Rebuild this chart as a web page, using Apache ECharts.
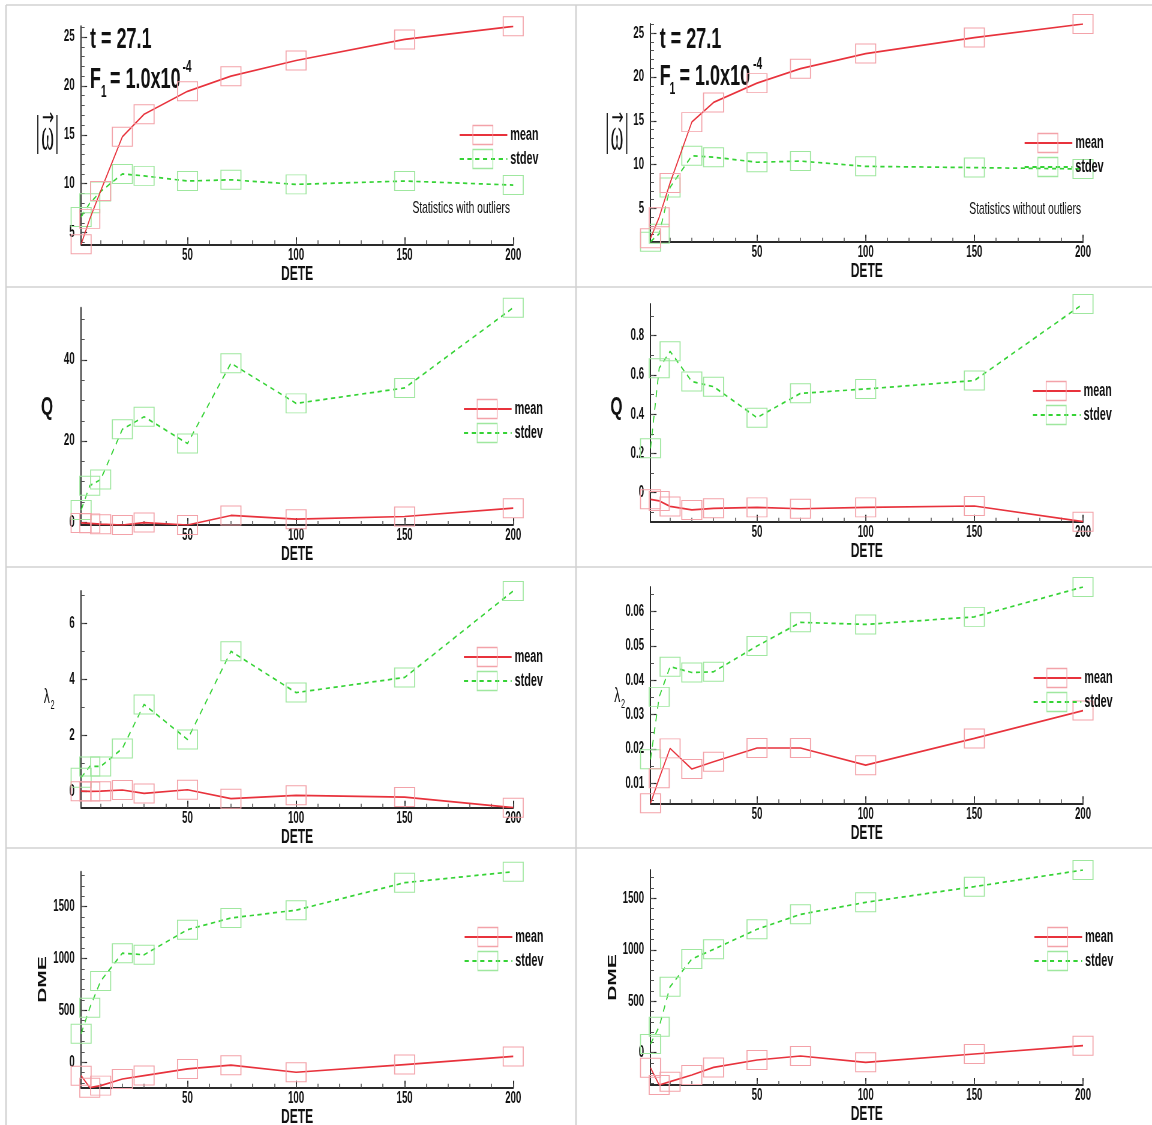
<!DOCTYPE html>
<html>
<head>
<meta charset="utf-8">
<title>DETE statistics</title>
<script src="https://cdn.jsdelivr.net/npm/echarts@6/dist/echarts.min.js"></script>
<style>
  html, body { margin: 0; padding: 0; background: #ffffff; overflow: hidden; }
  #wrap { width: 1152px; height: 1125px; overflow: hidden; position: relative; }
  #chart { position: absolute; left: 0; top: 0; transform-origin: 0 0; }
</style>
</head>
<body>
<div id="wrap"><div id="chart"></div></div>
<script>
// ---- data -----------------------------------------------------------------
const dete = [1, 5, 10, 20, 30, 50, 70, 100, 150, 200];
const deteTicks = [50, 100, 150, 200];

// |omega|
const omegaMeanAll  = [3.8, 6.4, 9.25, 14.8, 17.1, 19.45, 21.0, 22.6, 24.76, 26.1];
const omegaStdAll   = [6.6, 8.0, 9.2, 11.0, 10.8, 10.27, 10.4, 9.93, 10.27, 9.86];
const omegaMeanTrim = [1.6, 4.0, 7.9, 14.85, 17.1, 19.3, 20.95, 22.67, 24.5, 26.05];
const omegaStdTrim  = [1.2, 2.1, 7.4, 11.0, 10.85, 10.27, 10.4, 9.8, 9.66, 9.5];
const omegaTicks    = [5, 10, 15, 20, 25];

// Q
const qMeanAll  = [-0.2, -0.3, -0.5, -0.7, -0.1, -0.7, 1.65, 0.74, 1.4, 3.46];
const qStdAll   = [3.0, 9.0, 10.5, 22.9, 26.0, 19.4, 39.2, 29.3, 33.1, 52.9];
const qMeanTrim = [-0.034, -0.042, -0.07, -0.088, -0.08, -0.075, -0.082, -0.075, -0.068, -0.148];
const qStdTrim  = [0.226, 0.634, 0.72, 0.566, 0.54, 0.382, 0.506, 0.528, 0.571, 0.961];
const qTicksAll  = [0, 20, 40];
const qTicksTrim = [0, 0.2, 0.4, 0.6, 0.8];

// lambda_2
const l2MeanAll  = [0.02, 0.01, 0.02, 0.06, -0.06, 0.07, -0.25, -0.13, -0.19, -0.57];
const l2StdAll   = [0.5, 0.9, 0.9, 1.54, 3.11, 1.86, 5.0, 3.53, 4.07, 7.15];
const l2MeanTrim = [0.0042, 0.0115, 0.0202, 0.0142, 0.0163, 0.0203, 0.0203, 0.0153, 0.0231, 0.0312];
const l2StdTrim  = [0.017, 0.0352, 0.044, 0.0423, 0.0425, 0.050, 0.0569, 0.0563, 0.0585, 0.0672];
const l2TicksAll  = [0, 2, 4, 6];
const l2TicksTrim = [0.01, 0.02, 0.03, 0.04, 0.05, 0.06];

// DME
const dmeMeanAll  = [-130, -246, -226, -162, -129, -65, -29, -97, -23, 55];
const dmeStdAll   = [275, 524, 782, 1051, 1035, 1277, 1390, 1465, 1730, 1836];
const dmeMeanTrim = [-146, -314, -282, -217, -143, -71, -32, -94, -13, 68];
const dmeStdTrim  = [85, 253, 641, 910, 1004, 1199, 1344, 1461, 1613, 1775];
const dmeTicks    = [0, 500, 1000, 1500];

const seriesNames = ['mean', 'stdev'];

// ---- drawing setup --------------------------------------------------------
// The figure uses tall, condensed lettering: the drawing is laid out on a
// wider canvas and compressed horizontally by SX.
const SX = 0.6;
const W = 1152 / SX;
const H = 1125;
const X = v => v / SX;

const FONT = "'Liberation Sans', Arial, Helvetica, sans-serif";
const RED = '#e8323c', RED_BOX = '#f3a2a9';
const GREEN = '#35d335', GREEN_BOX = '#9fe79f';
const BOX_W = 20, BOX_H = 19;      // marker squares, screen px
const LEG_W = 47.7;                // legend line length, screen px

const panels = [
  { mean: omegaMeanAll,  std: omegaStdAll,  yTicks: omegaTicks,  minor: 1,     box: [81.1, 26.3, 513.2, 244.3],  legend: [459, 125.5] },
  { mean: omegaMeanTrim, std: omegaStdTrim, yTicks: omegaTicks,  minor: 1,     box: [650.5, 24, 1083, 241.7],    legend: [1024, 133.5] },
  { mean: qMeanAll,      std: qStdAll,      yTicks: qTicksAll,   minor: 5,     box: [81.1, 307.7, 513.2, 525],   legend: [463.3, 399.5] },
  { mean: qMeanTrim,     std: qStdTrim,     yTicks: qTicksTrim,  minor: 0.1,   box: [650.5, 304, 1083, 521.7],   legend: [1032.3, 381.5] },
  { mean: l2MeanAll,     std: l2StdAll,     yTicks: l2TicksAll,  minor: 1,     box: [81.1, 591, 513.2, 807.7],   legend: [463.3, 647.5] },
  { mean: l2MeanTrim,    std: l2StdTrim,    yTicks: l2TicksTrim, minor: 0.005, box: [650.5, 587, 1083, 803.3],   legend: [1033, 668.5] },
  { mean: dmeMeanAll,    std: dmeStdAll,    yTicks: dmeTicks,    minor: 100,   box: [81.1, 871.7, 513.2, 1087.7], legend: [464, 927.5] },
  { mean: dmeMeanTrim,   std: dmeStdTrim,   yTicks: dmeTicks,    minor: 100,   box: [650.5, 870, 1083, 1085],    legend: [1033.8, 927.5] }
];

function ticksBetween(lo, hi, step) {
  const out = [];
  const first = Math.ceil(lo / step - 1e-9);
  for (let k = first; k * step <= hi + step * 1e-9; k++) out.push(+(k * step).toFixed(6));
  return out;
}
const deteMin = Math.min(...dete), deteMax = Math.max(...dete);
const deteMinor = ticksBetween(10, deteMax, 10);
const plain = v => String(+v.toFixed(6));

const grids = [], xAxes = [], yAxes = [], series = [], legends = [], legendBoxes = [];

panels.forEach((p, i) => {
  const [l, t, r, b] = p.box;
  grids.push({
    left: X(l), top: t, width: X(r - l), height: b - t,
    containLabel: false, outerBoundsMode: 'none'
  });
  const yMin = Math.min(...p.mean, ...p.std);
  const yMax = Math.max(...p.mean, ...p.std);

  // x axis with labels and major ticks
  xAxes.push({
    type: 'value', gridIndex: i, position: 'bottom', min: deteMin, max: deteMax,
    name: 'DETE', nameLocation: 'middle', nameGap: 14,
    nameTextStyle: { fontFamily: FONT, fontWeight: 'bold', fontSize: 20, color: '#111' },
    axisLine: { show: true, onZero: false, lineStyle: { color: '#2a2a2a', width: 2 } },
    axisTick: { show: true, inside: true, length: 7, customValues: deteTicks, lineStyle: { color: '#2a2a2a', width: 2 } },
    axisLabel: { show: true, margin: 3, customValues: deteTicks, formatter: plain, fontFamily: FONT, fontWeight: 'bold', fontSize: 16, color: '#111' },
    splitLine: { show: false }
  });
  // x axis carrying only the minor ticks
  xAxes.push({
    type: 'value', gridIndex: i, position: 'bottom', min: deteMin, max: deteMax,
    axisLine: { show: false, onZero: false },
    axisTick: { show: true, inside: true, length: 4, customValues: deteMinor, lineStyle: { color: '#555', width: 1.6 } },
    axisLabel: { show: false }, splitLine: { show: false }
  });
  // y axis with labels and major ticks
  yAxes.push({
    type: 'value', gridIndex: i, position: 'left', min: yMin, max: yMax,
    axisLine: { show: true, onZero: false, lineStyle: { color: '#2a2a2a', width: 2 } },
    axisTick: { show: true, inside: true, length: X(6), customValues: p.yTicks, lineStyle: { color: '#2a2a2a', width: 1.2 } },
    axisLabel: { show: true, margin: X(6.5), customValues: p.yTicks, formatter: plain, fontFamily: FONT, fontWeight: 'bold', fontSize: 16, color: '#111' },
    splitLine: { show: false }
  });
  // y axis carrying only the minor ticks
  yAxes.push({
    type: 'value', gridIndex: i, position: 'left', min: yMin, max: yMax,
    axisLine: { show: false, onZero: false },
    axisTick: { show: true, inside: true, length: X(3.5), customValues: ticksBetween(yMin, yMax, p.minor), lineStyle: { color: '#555', width: 1 } },
    axisLabel: { show: false }, splitLine: { show: false }
  });

  const xi = 2 * i, yi = 2 * i;
  series.push({
    name: seriesNames[0], type: 'line', xAxisIndex: xi, yAxisIndex: yi,
    data: dete.map((d, k) => [d, p.mean[k]]),
    symbol: 'rect', symbolSize: [X(BOX_W), BOX_H], showAllSymbol: true,
    lineStyle: { color: RED, width: 1.7, type: 'solid' },
    itemStyle: { color: 'rgba(0,0,0,0)', borderColor: RED_BOX, borderWidth: 1.3 },
    emphasis: { disabled: true }, z: 3
  });
  series.push({
    name: seriesNames[1], type: 'line', xAxisIndex: xi, yAxisIndex: yi,
    data: dete.map((d, k) => [d, p.std[k]]),
    symbol: 'rect', symbolSize: [X(BOX_W), BOX_H], showAllSymbol: true,
    lineStyle: { color: GREEN, width: 1.7, type: [7, 6] },
    itemStyle: { color: 'rgba(0,0,0,0)', borderColor: GREEN_BOX, borderWidth: 1.3 },
    emphasis: { disabled: true }, z: 2
  });

  const [lx, ly] = p.legend;
  legends.push({
    data: seriesNames, orient: 'vertical', left: X(lx), top: ly,
    itemWidth: X(LEG_W), itemHeight: BOX_H, itemGap: 5, selectedMode: false, padding: 0,
    itemStyle: { color: 'rgba(0,0,0,0)', borderColor: 'rgba(0,0,0,0)', borderWidth: 0 },
    textStyle: { fontFamily: FONT, fontWeight: 'bold', fontSize: 18, color: '#111', lineHeight: 19 }
  });
  // square swatches centred on the legend lines
  [RED_BOX, GREEN_BOX].forEach((c, k) => {
    legendBoxes.push({
      type: 'rect', silent: true, z: 100,
      shape: { x: X(lx + LEG_W / 2 - BOX_W / 2), y: ly + k * (BOX_H + 5), width: X(BOX_W), height: BOX_H },
      style: { fill: 'none', stroke: c, lineWidth: 1.3 }
    });
  });
});

// ---- frame lines, annotations and axis titles ---------------------------------
const BORDER = '#d2d2d2';
function hLine(y, x1, x2) {
  return { type: 'line', silent: true, shape: { x1: X(x1), y1: y, x2: X(x2), y2: y }, style: { stroke: BORDER, lineWidth: 1.6 } };
}
function vLine(x, y1, y2) {
  return { type: 'line', silent: true, shape: { x1: X(x), y1: y1, x2: X(x), y2: y2 }, style: { stroke: BORDER, lineWidth: 2.6 } };
}
function txt(text, x, y, size, opts) {
  opts = opts || {};
  return {
    type: 'text', silent: true, x: X(x), y: y,
    rotation: opts.rotation || 0, scaleY: opts.scaleY || 1,
    style: {
      text: text, fill: opts.color || '#111',
      font: (opts.weight || 'bold') + ' ' + size + 'px ' + (opts.family || FONT),
      textAlign: opts.align || 'left', textVerticalAlign: 'middle',
      align: opts.align || 'left', verticalAlign: 'middle'
    }
  };
}
function bar(x, y1, y2) {
  return { type: 'line', silent: true, shape: { x1: X(x), y1: y1, x2: X(x), y2: y2 }, style: { stroke: '#222', lineWidth: 2 } };
}
function omegaTitle(cx, x1, x2, yTop, yBot) {
  return [
    bar(x1, yTop, yBot), bar(x2, yTop, yBot),
    txt('\u03c9', cx, 138, 32, { weight: 'normal', family: "'Liberation Serif', 'DejaVu Serif', serif", align: 'center', scaleY: 1.45 }),
    txt('\u2192', cx + 0.5, 119, 24, { weight: 'normal', family: "'DejaVu Sans', sans-serif", align: 'center' })
  ];
}

const graphics = [
  hLine(5, 6, 1152), hLine(287, 6, 1152), hLine(567, 6, 1152), hLine(848, 6, 1152),
  vLine(6, 5, 1125), vLine(576, 5, 1125),

  // run parameters
  txt('t = 27.1', 90, 40, 30),
  txt('F', 90, 80, 30), txt('1', 101, 92, 17), txt('= 1.0x10', 110, 80, 30), txt('-4', 182.5, 67, 17),
  txt('t = 27.1', 659.7, 40, 30),
  txt('F', 659.7, 77, 30), txt('1', 669.6, 89, 17), txt('= 1.0x10', 679.5, 77, 30), txt('-4', 753, 64, 17),

  txt('Statistics with outliers', 510, 208, 17, { weight: 'normal', align: 'right' }),
  txt('Statistics without outliers', 1081, 209, 17, { weight: 'normal', align: 'right' }),

  // axis titles
  ...omegaTitle(47.5, 37.8, 56.9, 115, 154),
  ...omegaTitle(617, 607.2, 626.7, 113, 154),
  txt('Q', 47, 408, 26, { align: 'center' }),
  txt('Q', 616.4, 407.7, 26, { align: 'center' }),
  txt('\u03bb', 46.8, 697, 20, { weight: 'normal', align: 'center' }), txt('2', 52.5, 706, 12, { weight: 'normal', align: 'center' }),
  txt('\u03bb', 617.3, 696, 20, { weight: 'normal', align: 'center' }), txt('2', 623, 705, 12, { weight: 'normal', align: 'center' }),
  txt('DME', 43, 979.5, 21, { align: 'center', rotation: Math.PI / 2 }),
  txt('DME', 612.7, 977.5, 21, { align: 'center', rotation: Math.PI / 2 }),

  ...legendBoxes
];

// ---- chart ----------------------------------------------------------------
const dom = document.getElementById('chart');
dom.style.width = W + 'px';
dom.style.height = H + 'px';
dom.style.transform = 'scaleX(' + SX + ')';

const chart = echarts.init(dom, null, { renderer: 'canvas', width: W, height: H });
chart.setOption({
  animation: false,
  backgroundColor: '#ffffff',
  grid: grids,
  xAxis: xAxes,
  yAxis: yAxes,
  legend: legends,
  series: series,
  graphic: { elements: graphics }
});
</script>
</body>
</html>
